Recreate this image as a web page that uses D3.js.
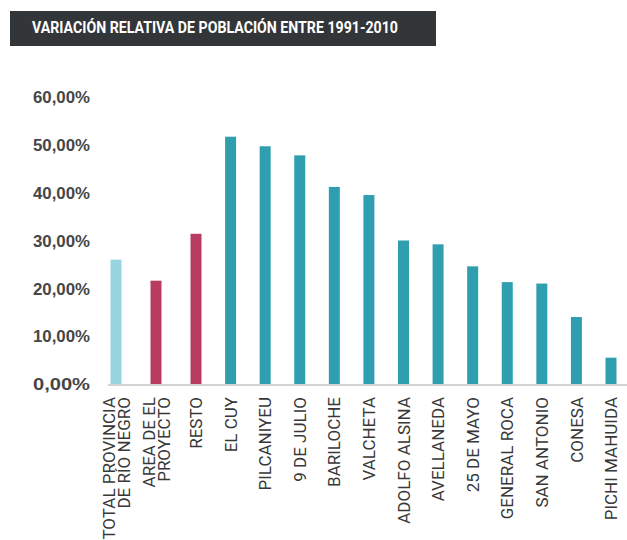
<!DOCTYPE html>
<html>
<head>
<meta charset="utf-8">
<script src="https://cdn.jsdelivr.net/npm/d3@7"></script>
<style>
  body { margin: 0; background: #fff; }
  svg { display: block; font-family: Roboto, "Liberation Sans", sans-serif; }
  .yAxis text { font-weight: bold; fill: #464646; font-size: 16px; }
  .xLabel { fill: #383838; font-size: 17px; }
</style>
</head>
<body>
<svg id="chart" width="627" height="540"></svg>
<script>
/* ==== Data ==== */
var categories = [
  ["TOTAL PROVINCIA", "DE RÍO NEGRO"],
  ["AREA DE EL", "PROYECTO"],
  ["RESTO"],
  ["EL CUY"],
  ["PILCANIYEU"],
  ["9 DE JULIO"],
  ["BARILOCHE"],
  ["VALCHETA"],
  ["ADOLFO ALSINA"],
  ["AVELLANEDA"],
  ["25 DE MAYO"],
  ["GENERAL ROCA"],
  ["SAN ANTONIO"],
  ["CONESA"],
  ["PICHI MAHUIDA"]
];
var values = [26.0, 21.6, 31.4, 51.7, 49.7, 47.8, 41.2, 39.5, 30.0, 29.2, 24.6, 21.3, 21.0, 14.0, 5.5];
var groups = ["total", "area", "area", "dep", "dep", "dep", "dep", "dep", "dep", "dep", "dep", "dep", "dep", "dep", "dep"];
var yTicks = [0, 10, 20, 30, 40, 50, 60];
var title = "VARIACIÓN RELATIVA DE POBLACIÓN ENTRE 1991-2010";

var colors = { total: "#97d6e1", area: "#b83c62", dep: "#2f9fb0" };

/* ==== Layout ==== */
var BASELINE = 384;
var TOP = 97;
var BAR_W = 11;

var svg = d3.select("#chart");

// title box
svg.append("rect")
   .attr("x", 10).attr("y", 11)
   .attr("width", 426).attr("height", 35)
   .attr("fill", "#333639");
svg.append("text")
   .attr("x", 32).attr("y", 32.5)
   .attr("fill", "#fff")
   .attr("font-weight", "bold")
   .attr("font-size", 16)
   .attr("textLength", 366)
   .attr("lengthAdjust", "spacingAndGlyphs")
   .text(title);

/* ==== Scales ==== */
var y = d3.scaleLinear().domain([0, 60]).range([BASELINE, TOP]);
// first three bars are spread a bit wider than the departments
var x = d3.scaleLinear().domain([0, 2, 14]).range([116, 196, 611]);

/* ==== Y axis ==== */
var yAxis = svg.append("g")
   .attr("class", "yAxis")
   .attr("transform", "translate(90,0)")
   .call(d3.axisLeft(y).tickValues(yTicks).tickSize(0).tickPadding(0)
          .tickFormat(d => d3.format(".2f")(d).replace(".", ",") + "%"));
yAxis.select(".domain").remove();
yAxis.selectAll("text").attr("textLength", 57).attr("lengthAdjust", "spacingAndGlyphs").attr("dy", "0.36em");

/* ==== Bars ==== */
svg.append("g")
   .selectAll("rect")
   .data(values)
   .enter()
   .append("rect")
   .attr("x", (d, i) => x(i) - BAR_W / 2)
   .attr("y", d => y(d))
   .attr("width", BAR_W)
   .attr("height", d => y(0) - y(d))
   .attr("fill", (d, i) => colors[groups[i]]);

// baseline
svg.append("line")
   .attr("x1", 108).attr("x2", 627)
   .attr("y1", BASELINE + 1).attr("y2", BASELINE + 1)
   .attr("stroke", "#d3d3d3")
   .attr("stroke-width", 2);

/* ==== X labels ==== */
var LINE_GAP = 15;
var labels = svg.append("g")
   .selectAll("g")
   .data(categories)
   .enter()
   .append("g")
   .attr("transform", (d, i) => "translate(" + x(i) + "," + 397 + ") rotate(-90)");

labels.selectAll("text")
   .data(d => d.map((t, j) => ({ t: t, off: (j - (d.length - 1) / 2) * LINE_GAP })))
   .enter()
   .append("text")
   .attr("class", "xLabel")
   .attr("text-anchor", "end")
   .attr("x", 0)
   .attr("y", d => d.off)
   .attr("dy", "0.36em")
   .text(d => d.t);
</script>
</body>
</html>
